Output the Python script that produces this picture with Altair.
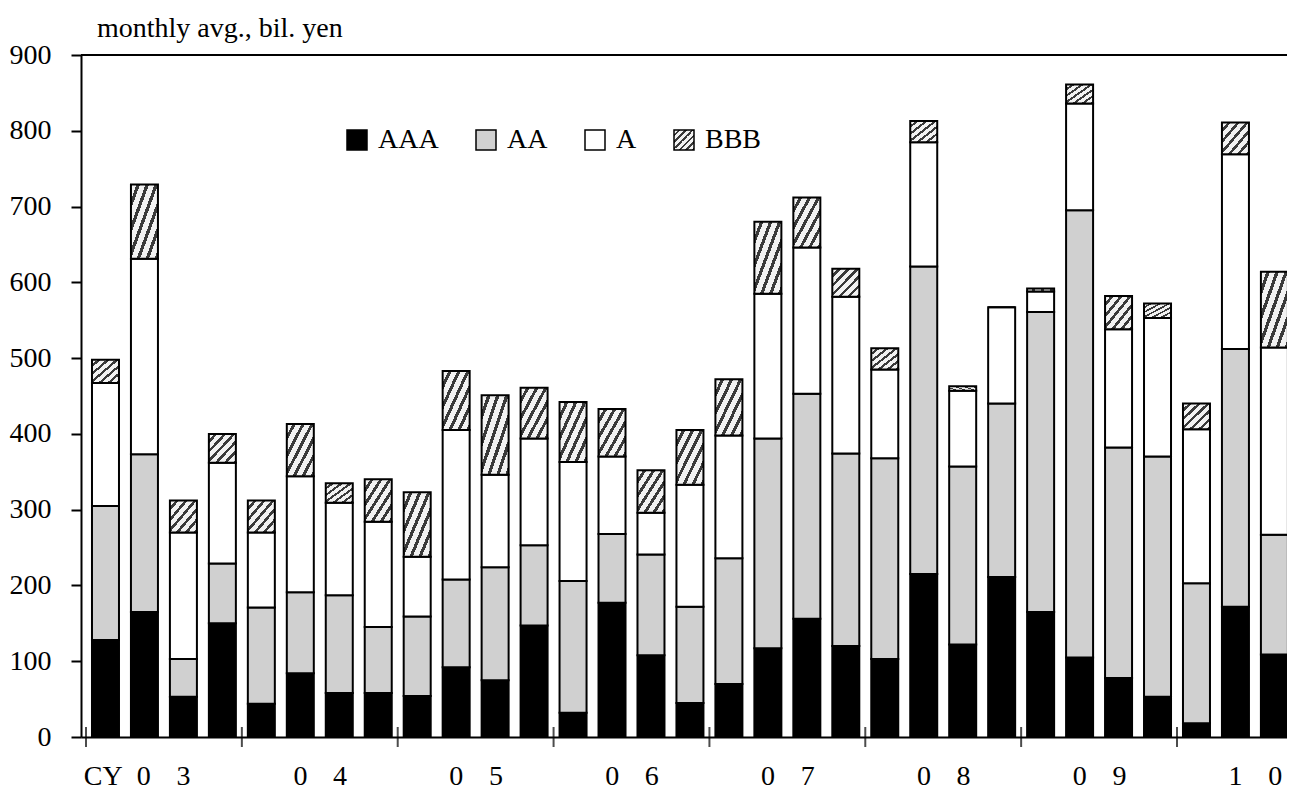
import altair as alt
import pandas as pd

# ---------------- data ----------------
quarters = ["03Q1", "03Q2", "03Q3", "03Q4",
            "04Q1", "04Q2", "04Q3", "04Q4",
            "05Q1", "05Q2", "05Q3", "05Q4",
            "06Q1", "06Q2", "06Q3", "06Q4",
            "07Q1", "07Q2", "07Q3", "07Q4",
            "08Q1", "08Q2", "08Q3", "08Q4",
            "09Q1", "09Q2", "09Q3", "09Q4",
            "10Q1", "10Q2", "10Q3"]

aaa = [128, 165, 53, 150, 44, 84, 58, 58, 54, 92, 75, 147, 32, 177, 108, 45,
       70, 117, 156, 120, 103, 215, 122, 211, 165, 105, 78, 53, 18, 172, 109]
aa = [177, 208, 50, 79, 127, 107, 129, 87, 105, 116, 149, 106, 174, 91, 133, 127,
      166, 277, 297, 254, 265, 406, 235, 229, 396, 590, 304, 317, 185, 340, 158]
a_ = [162, 258, 167, 133, 99, 153, 122, 139, 79, 197, 122, 141, 157, 102, 55, 161,
      162, 191, 193, 207, 117, 164, 100, 127, 27, 141, 156, 183, 203, 257, 247]
bbb = [31, 98, 42, 38, 42, 69, 26, 56, 85, 78, 105, 67, 79, 63, 56, 72,
       74, 95, 66, 37, 28, 28, 6, 0, 4, 25, 44, 19, 34, 42, 100]

ratings = ["AAA", "AA", "A", "BBB"]

SP = "\u2002\u2005\u2006"  # wide gap between the digits of the year labels
year_labels = ["CY\u00a0\u00a00" + SP + "3",
               "0" + SP + "4", "0" + SP + "5", "0" + SP + "6", "0" + SP + "7",
               "0" + SP + "8", "0" + SP + "9", "1" + SP + "0"]

FONT = "Liberation Serif"
FS = 28

# ---------------- tables ----------------
series = [aaa, aa, a_, bbb]
rows = []
for i, q in enumerate(quarters):
    for k, r in enumerate(ratings):
        rows.append({"q": q, "idx": i, "rating": r, "order": k, "value": series[k][i]})
df = pd.DataFrame(rows)

year_starts = [i for i, q in enumerate(quarters) if q.endswith("Q1")]
year_mids = [s + 2 for s in year_starts]

STEP = 39.29          # px per quarter
W = 1206              # plot width (last quarter is cut at the right edge)
x_scale = alt.Scale(domain=[0, W / STEP], nice=False, zero=False)
y_scale = alt.Scale(domain=[0, 900], nice=False)

label_js = "[" + ",".join("'" + s + "'" for s in year_labels) + "]"
first_mid = year_mids[0]

# striped (diagonal hatch) fill for BBB, as a Vega gradient expression
N = 6
stop_js = []
for k in range(N):
    stop_js.append("{offset: %.4f, color: '#f2f2f2'}" % (k / N))
    stop_js.append("{offset: %.4f, color: '#f2f2f2'}" % ((k + 0.62) / N))
    stop_js.append("{offset: %.4f, color: '#3a3a3a'}" % ((k + 0.62) / N))
    stop_js.append("{offset: %.4f, color: '#3a3a3a'}" % ((k + 1) / N))
hatch_expr = ("{gradient: 'linear', x1: 0, y1: 0, x2: 1, y2: 1, stops: ["
              + ", ".join(stop_js) + "]}")
rating_fills = ["#000000", "#d0d0d0", "#ffffff", alt.ExprRef(expr=hatch_expr)]

base = (
    alt.Chart(df)
    .transform_calculate(xc="datum.idx + 0.5")
    .transform_stack(stack="value", groupby=["idx"],
                     sort=[alt.SortField("order", order="ascending")],
                     as_=["y0", "y1"])
)

bars = base.mark_bar(width=27, stroke="black", strokeWidth=2, clip=True).encode(
    x=alt.X("xc:Q", scale=x_scale,
            axis=alt.Axis(values=year_mids,
                          labelExpr=label_js + "[floor(datum.value / 4)]",
                          labelAlign=alt.condition(f"datum.value == {first_mid}",
                                                   alt.value("right"), alt.value("center")),
                          labelOffset=alt.condition(f"datum.value == {first_mid}",
                                                    alt.value(26), alt.value(0)),
                          tickSize=0, labelPadding=25, domainWidth=2,
                          domainColor="black", grid=False, title=None,
                          labelFlush=False, labelOverlap=False,
                          labelFont=FONT, labelFontSize=FS, labelColor="black")),
    y=alt.Y("y0:Q", scale=y_scale,
            axis=alt.Axis(values=list(range(0, 901, 100)), tickSize=10, tickWidth=2,
                          tickColor="black", domainWidth=2, domainColor="black",
                          labelPadding=20, grid=False, title=None,
                          labelFont=FONT, labelFontSize=FS, labelColor="black")),
    y2="y1:Q",
    fill=alt.Fill("rating:N", scale=alt.Scale(domain=ratings, range=rating_fills),
                  legend=alt.Legend(orient="none", legendX=262, legendY=71,
                                    direction="horizontal", columns=4, title=None,
                                    symbolType="square", symbolSize=400,
                                    symbolStrokeColor="black", symbolStrokeWidth=1.5,
                                    symbolOpacity=1, labelFont=FONT, labelFontSize=FS,
                                    labelColor="black", labelOffset=7,
                                    columnPadding=33, padding=0)),
)

ticks = (
    alt.Chart(pd.DataFrame({"b": year_starts}))
    .mark_tick(orient="vertical", size=20, thickness=2, color="black")
    .encode(x=alt.X("b:Q", title=None),
            y=alt.datum(0))
)

top_line = (
    alt.Chart(pd.DataFrame({"top": [900]}))
    .mark_rule(strokeWidth=2, color="black")
    .encode(y=alt.Y("top:Q", title=None))
)

chart = (
    alt.layer(bars, ticks, top_line)
    .properties(
        width=W,
        height=682,
        autosize=alt.AutoSizeParams(type="none"),
        padding={"left": 73, "top": 47, "right": 0, "bottom": 57},
        title=alt.Title("monthly avg., bil. yen", anchor="start", frame="group",
                        dx=16, offset=-24, baseline="alphabetic", font=FONT,
                        fontSize=FS, fontWeight="normal", color="black"),
    )
    .configure_view(stroke=None)
    .configure(background="white")
)

chart.save("out.html", embed_options={"renderer": "svg", "actions": False})
